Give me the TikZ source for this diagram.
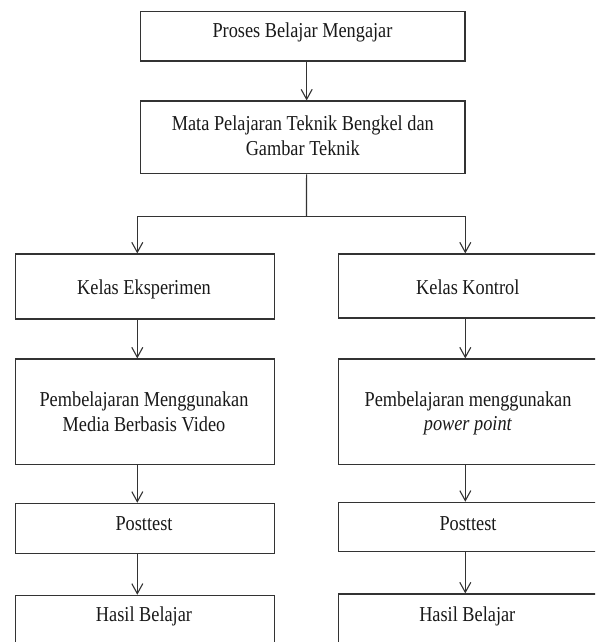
\documentclass[tikz,border=0pt]{standalone}
\usepackage{fontspec}
\usepackage{graphicx}
\setmainfont{Liberation Serif}
\usetikzlibrary{arrows.meta}
\newcommand{\tall}[1]{\scalebox{1}[1.16]{#1}}
\begin{document}
\begin{tikzpicture}[x=1pt,y=-1pt,
  box/.style={draw=black!80,line width=1.1pt,inner sep=0pt,rectangle},
  txt/.style={inner sep=0pt,anchor=base,align=center,text=black!90,
    font=\fontsize{18.3}{24.5}\selectfont},
  arr/.style={draw=black!80,line width=1.1pt,-{Straight Barb[length=10pt,width=11pt,line width=1.1pt]}},
  ln/.style={draw=black!80,line width=1.1pt}]
\useasboundingbox (0,0) rectangle (595,642);
\clip (0,0) rectangle (595,642);
% boxes
\node[box,minimum width=324.3pt,minimum height=49.7pt] (b1) at (302.85,36.15) {};
\node[box,minimum width=324.3pt,minimum height=72.7pt] (b2) at (302.85,137.35) {};
\node[box,minimum width=259pt,minimum height=65pt] (lA) at (145.2,286.5) {};
\node[box,minimum width=259pt,minimum height=64pt] (rA) at (467.8,286) {};
\node[box,minimum width=259pt,minimum height=105.3pt] (lB) at (145.2,411.65) {};
\node[box,minimum width=259pt,minimum height=105.3pt] (rB) at (467.8,411.65) {};
\node[box,minimum width=259pt,minimum height=50pt] (lC) at (145.2,528.3) {};
\node[box,minimum width=259pt,minimum height=49.4pt] (rC) at (467.8,527) {};
\node[box,minimum width=259pt,minimum height=60pt] (lD) at (145.2,625.3) {};
\node[box,minimum width=259pt,minimum height=60pt] (rD) at (467.8,624) {};
% texts (two-line nodes are anchored at the baseline of their last line)
\node[txt] (t1) at (302.5,37.7) {\tall{Proses Belajar Mengajar}};
\node[txt] (t2) at (302.8,155) {\tall{Mata Pelajaran Teknik Bengkel dan}\\\tall{Gambar Teknik}};
\node[txt] (tlA) at (144,294.3) {\tall{Kelas Eksperimen}};
\node[txt] (trA) at (467.8,294) {\tall{Kelas Kontrol}};
\node[txt] (tlB) at (144,431) {\tall{Pembelajaran Menggunakan}\\\tall{Media Berbasis Video}};
\node[txt] (trB) at (468,430.7) {\tall{Pembelajaran menggunakan}\\\tall{\textit{power point}}};
\node[txt] (tlC) at (144,530.7) {\tall{Posttest}};
\node[txt] (trC) at (468,530) {\tall{Posttest}};
\node[txt] (tlD) at (144,621.7) {\tall{Hasil Belajar}};
\node[txt] (trD) at (467.3,621) {\tall{Hasil Belajar}};
% connectors
\coordinate (split) at (306.5,216.5);
\draw[arr] ([xshift=3.8pt]b1.south) -- ([xshift=3.8pt]b2.north);
\draw[ln] ([xshift=3.7pt]b2.south) -- (split);
\draw[arr] (split) -| ([xshift=-7.9pt]lA.north);
\draw[arr] (split) -| ([xshift=-2.5pt]rA.north);
\draw[arr] ([xshift=-7.9pt]lA.south) -- ([xshift=-7.9pt]lB.north);
\draw[arr] ([xshift=-2.5pt]rA.south) -- ([xshift=-2.5pt]rB.north);
\draw[arr] ([xshift=-7.9pt]lB.south) -- ([xshift=-7.9pt]lC.north);
\draw[arr] ([xshift=-2.5pt]rB.south) -- ([xshift=-2.5pt]rC.north);
\draw[arr] ([xshift=-7.9pt]lC.south) -- ([xshift=-7.9pt]lD.north);
\draw[arr] ([xshift=-2.5pt]rC.south) -- ([xshift=-2.5pt]rD.north);
\end{tikzpicture}
\end{document}
